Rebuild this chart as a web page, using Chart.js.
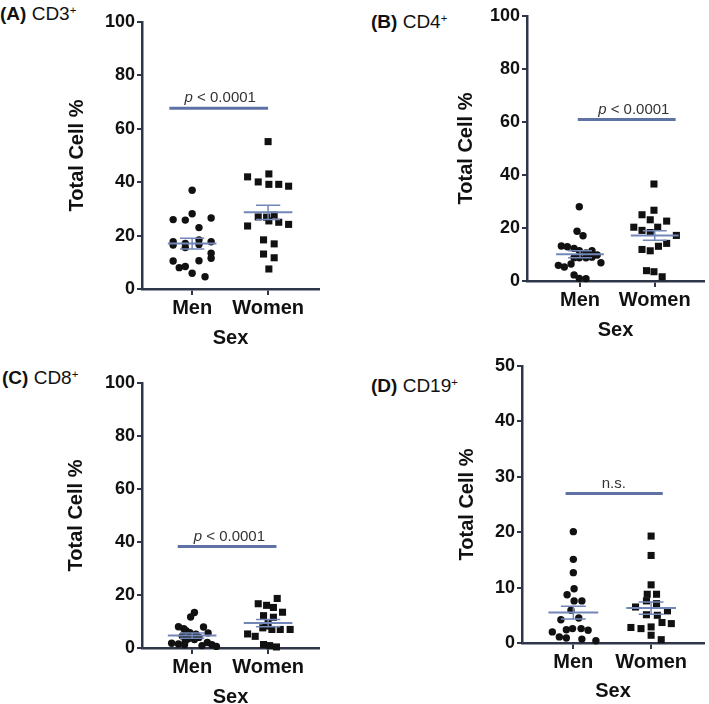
<!DOCTYPE html>
<html>
<head>
<meta charset="utf-8">
<script src="https://cdn.jsdelivr.net/npm/chart.js@4.4.1/dist/chart.umd.min.js"></script>
<style>
  body { margin: 0; background: #fff; }
  #wrap { position: relative; width: 709px; height: 704px; overflow: hidden; }
  #wrap canvas { position: absolute; left: 0; top: 0; }
  .ptitle { position: absolute; font-family: "Liberation Sans", Arial, sans-serif; font-size: 19px; line-height: 20px; color: #111; white-space: nowrap; }
  .ptitle sup { font-size: 0.6em; vertical-align: 0.55em; line-height: 0; }
</style>
</head>
<body>
<div id="wrap">
  <div class="ptitle" style="left:0px; top:4px;"><b>(A)</b> CD3<sup>+</sup></div>
  <div class="ptitle" style="left:371px; top:12px;"><b>(B)</b> CD4<sup>+</sup></div>
  <div class="ptitle" style="left:2px; top:368px;"><b>(C)</b> CD8<sup>+</sup></div>
  <div class="ptitle" style="left:371px; top:376px;"><b>(D)</b> CD19<sup>+</sup></div>
</div>
<script>
var groups = ["Men", "Women"];

// (A) CD3+
var cd3MenX = [1.00, 1.00, 0.75, 0.91, 1.25, 1.09, 0.75, 0.75, 0.91, 0.91, 1.09, 1.09, 1.25, 1.25, 1.25, 0.75, 0.83, 0.91, 1.09, 1.00, 1.17];
var cd3MenY = [37.0, 28.2, 26.0, 25.8, 26.6, 23.0, 17.7, 16.5, 17.1, 15.5, 18.4, 16.7, 17.7, 13.4, 11.5, 10.5, 8.0, 8.4, 10.6, 5.9, 4.6];
var cd3WomenX = [2.00, 1.73, 1.87, 2.01, 2.01, 2.14, 2.27, 1.87, 1.98, 2.08, 2.01, 2.14, 2.27, 1.73, 1.94, 2.08, 1.94, 2.08, 2.01];
var cd3WomenY = [55.2, 42.0, 40.1, 43.1, 39.2, 39.2, 38.5, 27.0, 26.9, 27.7, 25.5, 25.0, 24.2, 23.6, 18.4, 16.9, 13.1, 11.7, 7.5];
var cd3Mean = [17.0, 28.7];
var cd3Sem = [2.0, 2.7];

// (B) CD4+
var cd4MenX = [0.99, 0.96, 1.04, 0.75, 0.83, 0.92, 0.99, 1.16, 1.08, 1.23, 0.92, 0.99, 1.08, 1.16, 1.28, 0.88, 0.71, 0.79, 0.92, 0.99, 1.08];
var cd4MenY = [28.0, 18.8, 17.1, 13.2, 12.9, 12.3, 11.4, 11.4, 10.6, 9.8, 8.8, 8.8, 8.8, 9.0, 6.9, 6.4, 5.9, 5.3, 2.3, 1.0, 0.9];
var cd4WomenX = [1.99, 1.99, 1.83, 1.94, 2.16, 1.72, 2.04, 1.83, 1.94, 2.29, 2.16, 2.05, 1.83, 1.94, 1.89, 1.99, 2.10];
var cd4WomenY = [36.6, 26.7, 25.0, 23.1, 22.6, 20.3, 20.3, 19.1, 18.3, 17.2, 14.2, 13.1, 11.9, 11.4, 3.9, 3.5, 1.6];
var cd4Mean = [10.1, 17.2];
var cd4Sem = [1.3, 1.8];

// (C) CD8+
var cd8MenX = [1.03, 0.98, 0.82, 0.89, 1.15, 0.92, 0.97, 1.05, 0.87, 1.00, 1.09, 0.95, 1.03, 1.21, 0.91, 0.73, 0.82, 0.90, 1.20, 1.26, 1.32, 1.13];
var cd8MenY = [13.4, 11.7, 8.0, 7.3, 7.9, 6.5, 5.8, 5.2, 4.5, 4.2, 4.0, 3.5, 3.2, 5.7, 2.6, 1.8, 1.5, 1.2, 2.1, 1.2, 0.6, 0.9];
var cd8WomenX = [2.12, 1.87, 1.98, 2.07, 2.19, 1.94, 2.07, 2.00, 1.97, 2.05, 2.16, 2.29, 1.93, 1.73, 1.83, 1.94, 2.02, 2.11];
var cd8WomenY = [18.7, 16.7, 16.1, 15.3, 13.5, 12.2, 11.6, 9.6, 8.3, 7.0, 7.0, 7.0, 7.6, 5.3, 4.4, 1.3, 0.9, 0.4];
var cd8Mean = [4.7, 9.4];
var cd8Sem = [1.0, 1.4];

// (D) CD19+
var cd19MenX = [1.00, 1.00, 1.00, 1.01, 0.92, 1.01, 1.11, 0.97, 0.84, 1.07, 0.73, 0.91, 0.99, 1.10, 1.19, 0.82, 0.91, 1.11, 1.29];
var cd19MenY = [20.1, 15.1, 12.7, 9.8, 8.7, 7.6, 7.6, 5.9, 4.2, 4.5, 2.0, 2.4, 2.6, 2.6, 2.3, 1.1, 0.9, 0.7, 0.4];
var cd19WomenX = [2.00, 2.00, 2.00, 1.95, 2.07, 1.94, 2.07, 1.80, 2.21, 1.94, 2.08, 2.14, 2.26, 1.74, 1.87, 2.00, 2.00, 2.13];
var cd19WomenY = [19.3, 15.8, 10.5, 8.8, 8.8, 7.6, 7.1, 6.5, 5.8, 5.1, 5.0, 3.7, 3.5, 2.8, 2.6, 2.9, 1.4, 0.6];
var cd19Mean = [5.5, 6.3];
var cd19Sem = [1.15, 1.1];

// significance bars: [y, x start, x end, label x]
var sigBars = [[67.7, 0.70, 2.00, 1.37], [60.9, 0.97, 2.28, 1.72], [38.3, 0.81, 2.11, 1.49], [27.0, 0.90, 2.15, 1.52]];
var sigLabels = [["p", " < 0.0001"], ["p", " < 0.0001"], ["p", " < 0.0001"], ["", "n.s."]];

var yMax = [100, 100, 100, 50];
var yStep = [20, 20, 20, 10];

var FONT = "'Liberation Sans', Arial, sans-serif";
var AXIS = "#30364a";
var MEAN = "#7386b8";
var BAR = "#5f72a6";

// plot areas in page pixels
var layouts = [
    { l: 142, r: 319, t: 22, b: 289, titleX: 77, sexY: 338, xmin: 0.34, xmax: 2.67 },
    { l: 527, r: 707, t: 16, b: 281, titleX: 466, sexY: 330, xmin: 0.29, xmax: 2.66 },
    { l: 142, r: 319, t: 383, b: 648, titleX: 76, sexY: 697, xmin: 0.34, xmax: 2.67 },
    { l: 522, r: 707, t: 366, b: 643, titleX: 467, sexY: 691, xmin: 0.34, xmax: 2.68 }
];

var sigLabelPlugin = {
    id: "sigLabel",
    afterDatasetsDraw: function (chart, args, opts) {
        var ctx = chart.ctx;
        var x = chart.scales.x.getPixelForValue(opts.x);
        var y = chart.scales.y.getPixelForValue(opts.y) - 10;
        ctx.save();
        ctx.fillStyle = "#333";
        ctx.textBaseline = "middle";
        ctx.font = "italic 15px " + FONT;
        var w1 = ctx.measureText(opts.italic).width;
        ctx.font = "15px " + FONT;
        var w2 = ctx.measureText(opts.rest).width;
        var x0 = x - (w1 + w2) / 2;
        ctx.textAlign = "left";
        ctx.font = "italic 15px " + FONT;
        ctx.fillText(opts.italic, x0, y);
        ctx.font = "15px " + FONT;
        ctx.fillText(opts.rest, x0 + w1, y);
        ctx.restore();
    }
};

function toPoints(xs, ys) {
    return xs.map(function (x, i) { return { x: x, y: ys[i] }; });
}

function makePanel(k, menX, menY, womenX, womenY, mean, sem) {
    var L = layouts[k];
    var canvas = document.createElement("canvas");
    canvas.width = 709;
    canvas.height = 704;
    document.getElementById("wrap").appendChild(canvas);

    var sexBottom = L.sexY + 12;
    var meanPts = [], semPts = [];
    for (var g = 0; g < 2; g++) {
        var c = g + 1, m = mean[g], s = sem[g];
        meanPts.push({ x: c - 0.32, y: m }, { x: c + 0.32, y: m }, { x: c, y: null });
        semPts.push({ x: c - 0.16, y: m + s }, { x: c + 0.16, y: m + s }, { x: c, y: null },
            { x: c - 0.16, y: m - s }, { x: c + 0.16, y: m - s }, { x: c, y: null },
            { x: c, y: m - s }, { x: c, y: m + s }, { x: c, y: null });
    }
    var sb = sigBars[k];

    new Chart(canvas, {
        type: "scatter",
        data: {
            datasets: [
                { data: meanPts, showLine: true, borderColor: MEAN, borderWidth: 2, pointRadius: 0, spanGaps: false, clip: false },
                { data: semPts, showLine: true, borderColor: MEAN, borderWidth: 1.5, pointRadius: 0, spanGaps: false, clip: false },
                { data: [{ x: sb[1], y: sb[0] }, { x: sb[2], y: sb[0] }], showLine: true, borderColor: BAR, borderWidth: 3, pointRadius: 0, clip: false },
                { label: groups[0], data: toPoints(menX, menY), pointStyle: "circle", pointRadius: 3.7, backgroundColor: "#111", borderWidth: 0, clip: false },
                { label: groups[1], data: toPoints(womenX, womenY), pointStyle: "rect", pointRadius: 5, backgroundColor: "#111", borderWidth: 0, clip: false }
            ]
        },
        options: {
            responsive: false,
            animation: false,
            events: [],
            layout: { padding: { left: 0, top: L.t, right: 709 - L.r, bottom: 704 - sexBottom } },
            plugins: {
                legend: { display: false },
                tooltip: { enabled: false },
                sigLabel: { x: sb[3], y: sb[0], italic: sigLabels[k][0], rest: sigLabels[k][1] }
            },
            scales: {
                x: {
                    type: "linear",
                    min: L.xmin,
                    max: L.xmax,
                    afterBuildTicks: function (scale) { scale.ticks = [{ value: 1 }, { value: 2 }]; },
                    afterFit: function (scale) { scale.height = sexBottom - L.b; },
                    ticks: {
                        padding: 1,
                        color: "#111",
                        font: { family: FONT, size: 20, weight: "bold" },
                        callback: function (v) { return groups[v - 1]; }
                    },
                    grid: { display: true, drawOnChartArea: false, drawTicks: true, tickLength: 6, color: AXIS, lineWidth: 2 },
                    border: { display: true, color: AXIS, width: 2.5 },
                    title: { display: true, text: "Sex", color: "#111", padding: { top: 0, bottom: 0 }, font: { family: FONT, size: 20, weight: "bold" } }
                },
                y: {
                    min: 0,
                    max: yMax[k],
                    afterFit: function (scale) { scale.width = L.l; },
                    ticks: { stepSize: yStep[k], padding: 2, color: "#111", font: { family: FONT, size: 18, weight: "bold" } },
                    grid: { display: true, drawOnChartArea: false, drawTicks: true, tickLength: 5, color: AXIS, lineWidth: 2 },
                    border: { display: true, color: AXIS, width: 2.5 },
                    title: { display: true, text: "Total Cell %", color: "#111", padding: { top: L.titleX - 12, bottom: 0 }, font: { family: FONT, size: 20, weight: "bold" } }
                }
            }
        },
        plugins: [sigLabelPlugin]
    });
}

makePanel(0, cd3MenX, cd3MenY, cd3WomenX, cd3WomenY, cd3Mean, cd3Sem);
makePanel(1, cd4MenX, cd4MenY, cd4WomenX, cd4WomenY, cd4Mean, cd4Sem);
makePanel(2, cd8MenX, cd8MenY, cd8WomenX, cd8WomenY, cd8Mean, cd8Sem);
makePanel(3, cd19MenX, cd19MenY, cd19WomenX, cd19WomenY, cd19Mean, cd19Sem);
</script>
</body>
</html>
